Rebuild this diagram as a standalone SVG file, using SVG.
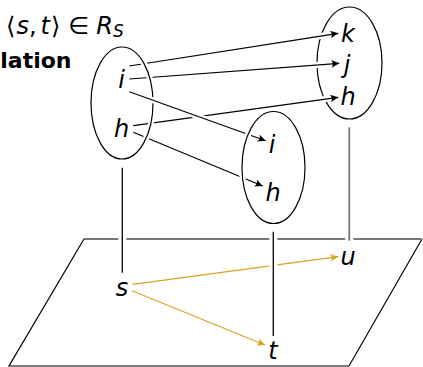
<svg xmlns="http://www.w3.org/2000/svg" width="423" height="367" viewBox="0 0 423 367">
<style>
.lbl{font-family:"DejaVu Sans",sans-serif;font-style:italic;font-size:24px;fill:#000;text-anchor:middle}
.ttl{font-family:"DejaVu Sans",sans-serif;font-size:24px;fill:#000}
.bold{font-family:"DejaVu Sans",sans-serif;font-weight:bold;font-size:22px;fill:#000;text-anchor:end}
.ell{fill:none;stroke:#000;stroke-width:1.2}
.halo{fill:none;stroke:#fff;stroke-width:6}
.arr{fill:none;stroke:#000;stroke-width:1.2;marker-end:url(#ah)}
.gold{fill:none;stroke:#d9a324;stroke-width:1.2;marker-end:url(#ahg)}
.vl{fill:none;stroke:#000;stroke-width:1.3}
.gl{fill:none;stroke:#777;stroke-width:1.8}
</style>
<defs>
<marker id="ah" markerUnits="userSpaceOnUse" markerWidth="12" markerHeight="10" refX="0" refY="0" viewBox="-9 -5 10 10" orient="auto"><path d="M0,0 L-8,-3.8 Q-5,0 -8,3.8 Z" fill="#000"/></marker>
<marker id="ahg" markerUnits="userSpaceOnUse" markerWidth="12" markerHeight="10" refX="0" refY="0" viewBox="-9 -5 10 10" orient="auto"><path d="M0,0 L-8,-3.8 Q-5,0 -8,3.8 Z" fill="#d9a324"/></marker>
<path id="a1" d="M129.3,66 L338.3,33.3"/>
<path id="a2" d="M129.3,79 L339.3,63.3"/>
<path id="a3" d="M129.3,91.7 L265.7,140.7"/>
<path id="a4" d="M133.3,125.7 L338.3,97.3"/>
<path id="a5" d="M133.3,132.3 L262.7,186"/>
<ellipse id="eL" cx="122" cy="103" rx="31" ry="56"/>
<ellipse id="eM" cx="273.5" cy="167.5" rx="31.5" ry="56"/>
<path id="g1" d="M132.7,284.3 L338.3,256.7"/>
<path id="vM" d="M273.3,231.7 L273.3,336"/>
<path id="vL" d="M122.3,167.7 L122.3,272.7"/>
<path id="vR" d="M349.3,127.3 L349.3,240.7"/>
</defs>

<g id="plane">
<path d="M84,239 L9,366 L349,366 L422,239" class="ell"/>
<path d="M84,239 L422,239" class="gl"/>
</g>

<g id="right-set">
<ellipse cx="349.5" cy="63" rx="32.5" ry="56" class="ell"/>
<text class="lbl" x="348" y="42">k</text>
<text class="lbl" x="347" y="73">j</text>
<text class="lbl" x="348" y="105">h</text>
</g>

<g id="connectors">
<use href="#a1" class="halo"/><use href="#a1" class="arr"/>
<use href="#a2" class="halo"/><use href="#a2" class="arr"/>
<use href="#a4" class="halo"/><use href="#a4" class="arr"/>
<use href="#a5" class="halo"/><use href="#a5" class="arr"/>
</g>

<g id="left-set">
<use href="#eL" class="halo"/><use href="#eL" class="ell"/>
<text class="lbl" x="121.5" y="88">i</text>
<text class="lbl" x="121.5" y="137">h</text>
</g>

<g id="connectors-2">
<use href="#a3" class="halo"/><use href="#a3" class="arr"/>
</g>

<g id="middle-set">
<use href="#eM" class="halo"/><use href="#eM" class="ell"/>
<text class="lbl" x="272" y="153">i</text>
<text class="lbl" x="273" y="201">h</text>
</g>

<g id="projections">
<path d="M132,290.7 L265,345" class="gold"/>
<use href="#g1" class="gold"/>
<use href="#vL" class="halo" style="stroke-width:8"/><use href="#vL" class="vl"/>
<use href="#vM" class="halo" style="stroke-width:8"/><use href="#vM" class="vl"/>
<use href="#vR" class="halo" style="stroke-width:8"/><use href="#vR" class="gl"/>
</g>

<g id="base-points">
<text class="lbl" x="122" y="296">s</text>
<text class="lbl" x="273" y="359">t</text>
<text class="lbl" x="348" y="265">u</text>
</g>

<g id="title">
<text class="ttl" x="6" y="34">⟨<tspan font-style="italic" dx="1">s</tspan>,<tspan font-style="italic" dx="4">t</tspan><tspan dx="1">⟩</tspan><tspan dx="8">∈</tspan><tspan font-style="italic" dx="7">R</tspan><tspan font-style="italic" font-size="17" dy="3">S</tspan></text>
<text class="bold" x="71.5" y="68">lation</text>
</g>
</svg>
